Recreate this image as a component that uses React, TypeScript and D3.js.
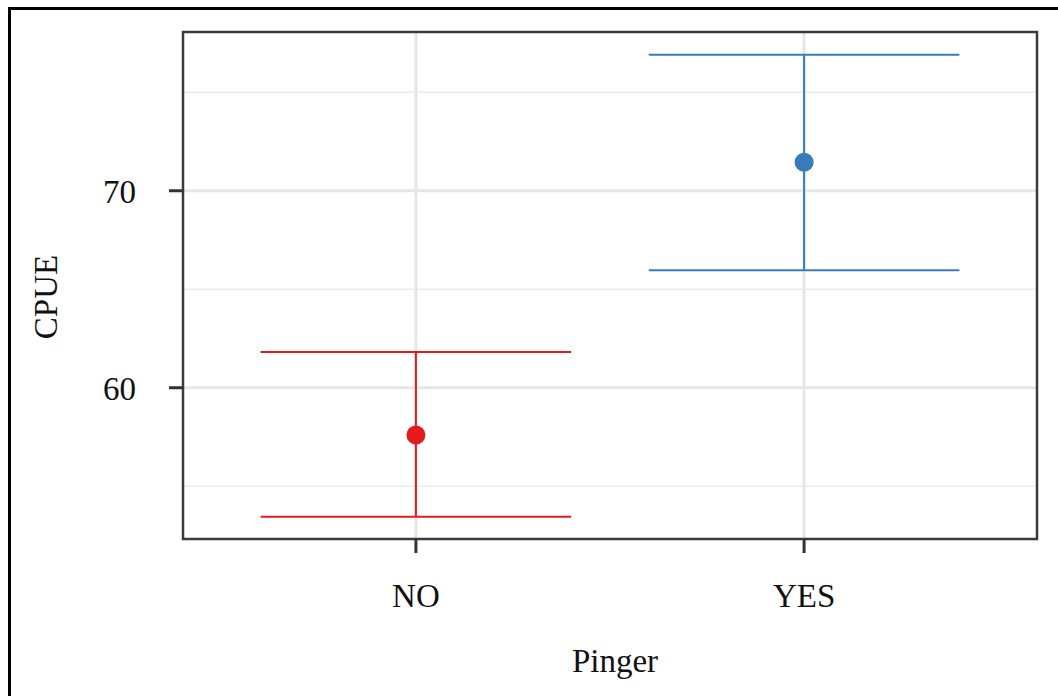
import React from "react";
import * as d3 from "d3";

const categories = ["NO", "YES"];
const means = [57.6, 71.45];
const lowers = [53.45, 65.97];
const uppers = [61.82, 76.9];
const colors = ["#E41A1C", "#377EB8"];
const majorTicks = [60, 70];
const minorTicks = [55, 65, 75];
const yLabel = "CPUE";
const xLabel = "Pinger";

const W = 1058;
const H = 696;
const panel = { left: 183, right: 1037, top: 32, bottom: 539 };
const font = "'Liberation Serif', 'Times New Roman', serif";

export default function App() {
  const y = d3.scaleLinear().domain([52.32, 78.06]).range([panel.bottom, panel.top]);
  const x = d3.scaleLinear().domain([0.4, 2.6]).range([panel.left, panel.right]);
  const capHalf = 0.4;
  return (
    <svg width={W} height={H} style={{ position: "absolute", left: 0, top: 0, background: "#fff" }}>
      <rect x={0} y={0} width={W} height={H} fill="#fff" />
      <rect x={9.5} y={8.5} width={W + 20} height={H + 20} fill="none" stroke="#000" strokeWidth={3} />
      {minorTicks.map((t) => (
        <line key={"mn" + t} x1={panel.left} x2={panel.right} y1={y(t)} y2={y(t)} stroke="#ebebeb" strokeWidth={1.5} />
      ))}
      {majorTicks.map((t) => (
        <line key={"mj" + t} x1={panel.left} x2={panel.right} y1={y(t)} y2={y(t)} stroke="#e6e6e6" strokeWidth={3} />
      ))}
      {categories.map((c, i) => (
        <line key={"vx" + c} x1={x(i + 1)} x2={x(i + 1)} y1={panel.top} y2={panel.bottom} stroke="#e6e6e6" strokeWidth={3} />
      ))}
      {categories.map((c, i) => {
        const cx = x(i + 1);
        const x0 = x(i + 1 - capHalf);
        const x1 = x(i + 1 + capHalf);
        return (
          <g key={"eb" + c} stroke={colors[i]} strokeWidth={2} fill="none">
            <line x1={cx} x2={cx} y1={y(uppers[i])} y2={y(lowers[i])} />
            <line x1={x0} x2={x1} y1={y(uppers[i])} y2={y(uppers[i])} />
            <line x1={x0} x2={x1} y1={y(lowers[i])} y2={y(lowers[i])} />
          </g>
        );
      })}
      {categories.map((c, i) => (
        <circle key={"pt" + c} cx={x(i + 1)} cy={y(means[i])} r={9.5} fill={colors[i]} />
      ))}
      <rect
        x={panel.left}
        y={panel.top}
        width={panel.right - panel.left}
        height={panel.bottom - panel.top}
        fill="none"
        stroke="#3a3a3a"
        strokeWidth={2.5}
      />
      {majorTicks.map((t) => (
        <g key={"yt" + t}>
          <line x1={panel.left - 14} x2={panel.left} y1={y(t)} y2={y(t)} stroke="#333" strokeWidth={3} />
          <text x={136} y={y(t) + 12} textAnchor="end" fontFamily={font} fontSize={33} fill="#111">
            {t}
          </text>
        </g>
      ))}
      {categories.map((c, i) => (
        <g key={"xt" + c}>
          <line x1={x(i + 1)} x2={x(i + 1)} y1={panel.bottom} y2={panel.bottom + 14} stroke="#333" strokeWidth={3} />
          <text x={x(i + 1)} y={607} textAnchor="middle" fontFamily={font} fontSize={33} fill="#111">
            {c}
          </text>
        </g>
      ))}
      <text x={615} y={672} textAnchor="middle" fontFamily={font} fontSize={33} fill="#111">
        {xLabel}
      </text>
      <text
        transform={`translate(57, 297) rotate(-90)`}
        textAnchor="middle"
        fontFamily={font}
        fontSize={33}
        fill="#111"
      >
        {yLabel}
      </text>
    </svg>
  );
}
